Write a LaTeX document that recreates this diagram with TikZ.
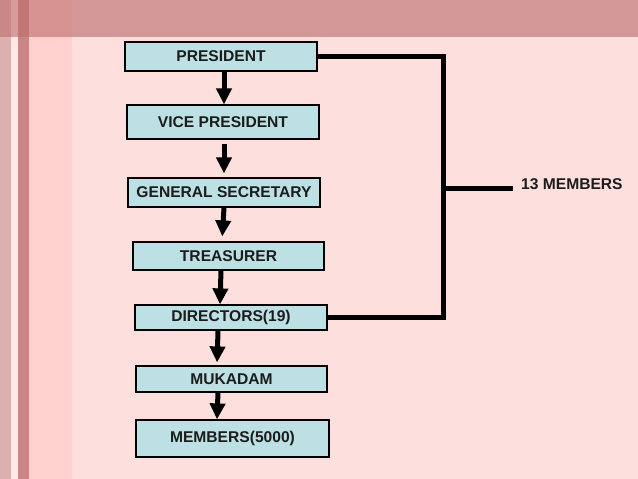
\documentclass[tikz,border=0pt]{standalone}
\usepackage{fontspec}
\setmainfont{Liberation Sans}
\usetikzlibrary{positioning, arrows.meta, calc}

\definecolor{slidebg}{HTML}{FDDFDE}
\definecolor{panelbg}{HTML}{FFD0CE}
\definecolor{stripeA}{HTML}{DDB0B0}
\definecolor{stripeB}{HTML}{FFE8E8}
\definecolor{stripeC}{HTML}{CC8484}
\definecolor{bandcol}{HTML}{BE6E6E}
\definecolor{boxfill}{HTML}{BCE0E3}
\definecolor{inkcol}{HTML}{1C1C1C}

\begin{document}
\begin{tikzpicture}[
            x=1pt, y=-1pt,
            every node/.style={font=\bfseries\fontsize{15.6}{18}\selectfont, text=inkcol},
            box/.style={draw=black, line width=1.2pt, fill=boxfill, inner sep=0pt,
                        minimum width=192pt, minimum height=29pt, align=center},
            arrow/.style={-{Triangle[width=15pt, length=16pt]}, line width=5pt},
            bar/.style={line width=5pt, line join=miter}
      ]
      \useasboundingbox (0,0) rectangle (638,479);

      % Background
      \fill[slidebg] (0,0) rectangle (638,479);
      \fill[panelbg] (29,0) rectangle (72,479);
      \fill[stripeA] (0,0) rectangle (11,479);
      \fill[stripeB] (11,0) rectangle (18,479);
      \fill[stripeC] (18,0) rectangle (29,479);
      \fill[bandcol, opacity=0.62] (0,0) rectangle (638,37);

      % Chain of offices
      \node[box] (pres) at (221, 56.5) {PRESIDENT};
      \node[box, minimum height=34pt] (vp) at (223, 122) {VICE PRESIDENT};
      \node[box] (gs) at (224, 192.5) {GENERAL SECRETARY};
      \node[box, minimum width=191pt, minimum height=28pt] (tr) at (228.5, 256) {TREASURER};
      \node[box, minimum height=25pt] (dir) at (231, 317.5) {DIRECTORS(19)};
      \node[box, minimum width=191pt, minimum height=26pt] (muk) at (231.5, 379) {MUKADAM};
      \node[box, minimum width=193pt, minimum height=37pt] (mem) at (232.5, 438.5) {MEMBERS(5000)};

      % Committee bracket
      \coordinate (mid) at (443, 188);
      \node[anchor=west, inner sep=0pt] (thirteen) at (521, 184.5) {13 MEMBERS};

      \draw[arrow] ([xshift=3pt]pres.south) -- ([xshift=1pt]vp.north);
      \draw[arrow, shorten <=4pt, shorten >=4pt] ([xshift=1pt]vp.south) -- (gs.north);
      \draw[arrow, shorten >=5pt] (gs.south) -- ([xshift=-6.5pt]tr.north);
      \draw[arrow] ([xshift=-7.5pt]tr.south) -- ([xshift=-11pt]dir.north);
      \draw[arrow, shorten >=3pt] ([xshift=-13pt]dir.south) -- ([xshift=-14.5pt]muk.north);
      \draw[arrow] ([xshift=-13.5pt]muk.south) -- ([xshift=-15.5pt]mem.north);

      \draw[bar] (pres.east) -- (pres.east -| mid) -- (dir.east -| mid) -- (dir.east);
      \draw[bar, shorten >=8pt] (mid) -- (mid -| thirteen.west);
\end{tikzpicture}
\end{document}
